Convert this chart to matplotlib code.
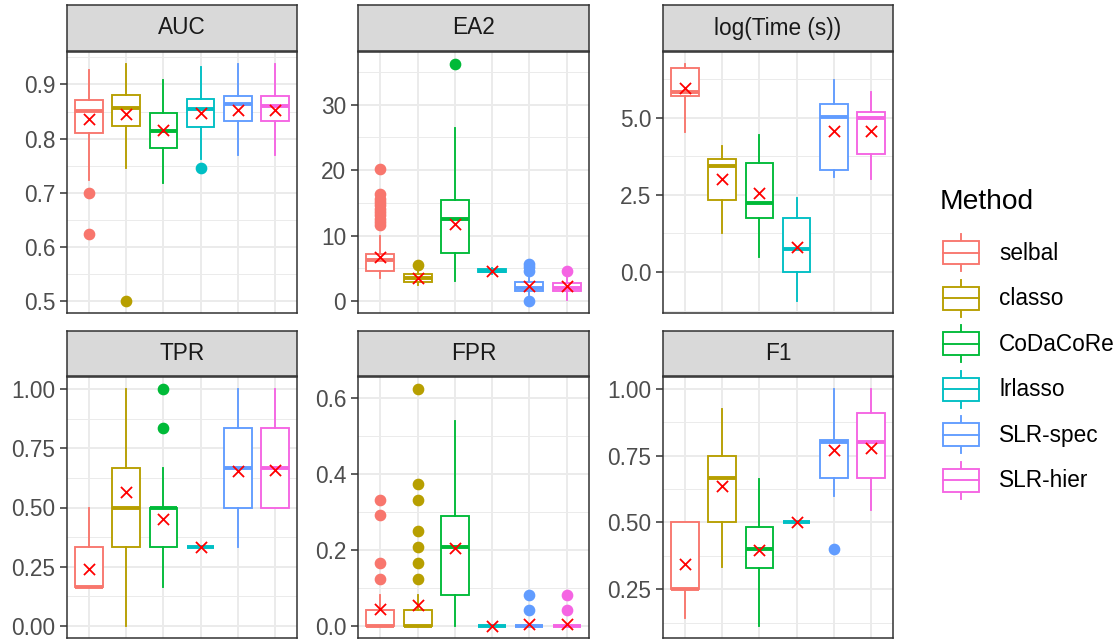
import matplotlib
matplotlib.use("Agg")
import matplotlib.pyplot as plt
from matplotlib.patches import Patch, Rectangle
from matplotlib.lines import Line2D
from matplotlib.legend_handler import HandlerBase
from matplotlib.ticker import FixedLocator

plt.rcParams['font.family'] = ['Liberation Sans', 'DejaVu Sans']

methods = ['selbal', 'classo', 'CoDaCoRe', 'lrlasso', 'SLR-spec', 'SLR-hier']
colors = ['#F8766D', '#B79F00', '#00BA38', '#00BFC4', '#619CFF', '#F564E3']

# five-number summaries per method: [whisker low, Q1, median, Q3, whisker high]
auc_stats = [[0.723, 0.810, 0.851, 0.872, 0.927],
             [0.746, 0.824, 0.857, 0.880, 0.938],
             [0.719, 0.783, 0.814, 0.847, 0.909],
             [0.762, 0.822, 0.854, 0.873, 0.933],
             [0.769, 0.832, 0.863, 0.879, 0.938],
             [0.769, 0.832, 0.861, 0.879, 0.938]]
auc_means = [0.837, 0.845, 0.816, 0.848, 0.853, 0.853]
auc_out = [[0.70, 0.624], [0.50], [], [0.745], [], []]

ea2_stats = [[3.56, 4.66, 6.2, 7.17, 10.0],
             [2.5, 2.9, 3.5, 4.1, 4.6],
             [3.06, 7.42, 12.5, 15.4, 26.4],
             [4.2, 4.4, 4.65, 4.85, 5.0],
             [1.0, 1.55, 2.05, 2.9, 3.6],
             [0.15, 1.55, 2.05, 2.8, 3.5]]
ea2_means = [6.67, 3.56, 11.8, 4.66, 2.3, 2.3]
ea2_out = [[11.6, 12.1, 12.6, 13.1, 13.6, 14.1, 14.6, 15.1, 15.6, 16.3, 20.2],
           [5.5], [36.2], [], [0.0, 4.56, 5.2, 5.66], [4.56]]

time_stats = [[4.53, 5.69, 5.84, 6.59, 6.74],
              [1.27, 2.33, 3.43, 3.67, 4.09],
              [0.50, 1.76, 2.24, 3.52, 4.45],
              [-0.94, 0.0, 0.75, 1.76, 2.40],
              [3.09, 3.30, 5.03, 5.43, 6.23],
              [3.01, 3.81, 4.98, 5.17, 5.83]]
time_means = [5.96, 3.0, 2.55, 0.80, 4.58, 4.58]
time_out = [[], [], [], [], [], []]

tpr_stats = [[0.167, 0.167, 0.167, 0.333, 0.5],
             [0.0, 0.333, 0.5, 0.667, 1.0],
             [0.167, 0.333, 0.5, 0.5, 0.667],
             [0.333, 0.333, 0.333, 0.333, 0.333],
             [0.333, 0.5, 0.667, 0.833, 1.0],
             [0.5, 0.5, 0.667, 0.833, 1.0]]
tpr_means = [0.24, 0.565, 0.45, 0.333, 0.652, 0.66]
tpr_out = [[], [], [0.833, 1.0], [], [], []]

fpr_stats = [[0.0, 0.0, 0.0, 0.042, 0.083],
             [0.0, 0.0, 0.0, 0.042, 0.083],
             [0.0, 0.083, 0.209, 0.291, 0.54],
             [0.0, 0.0, 0.0, 0.0, 0.0],
             [0.0, 0.0, 0.0, 0.0, 0.0],
             [0.0, 0.0, 0.0, 0.0, 0.0]]
fpr_means = [0.044, 0.055, 0.207, 0.0, 0.005, 0.005]
fpr_out = [[0.125, 0.167, 0.292, 0.333],
           [0.125, 0.167, 0.208, 0.25, 0.333, 0.375, 0.625],
           [], [], [0.042, 0.083], [0.042, 0.083]]

f1_stats = [[0.143, 0.25, 0.25, 0.5, 0.5],
            [0.335, 0.5, 0.667, 0.75, 0.923],
            [0.112, 0.328, 0.40, 0.483, 0.664],
            [0.5, 0.5, 0.5, 0.5, 0.5],
            [0.6, 0.665, 0.80, 0.809, 1.0],
            [0.545, 0.665, 0.80, 0.909, 1.0]]
f1_means = [0.343, 0.637, 0.396, 0.5, 0.77, 0.779]
f1_out = [[], [], [], [], [0.40], []]

panels = [
    ('AUC', auc_stats, auc_means, auc_out, [0.5, 0.6, 0.7, 0.8, 0.9], ['0.5', '0.6', '0.7', '0.8', '0.9']),
    ('EA2', ea2_stats, ea2_means, ea2_out, [0, 10, 20, 30], ['0', '10', '20', '30']),
    ('log(Time (s))', time_stats, time_means, time_out, [0.0, 2.5, 5.0], ['0.0', '2.5', '5.0']),
    ('TPR', tpr_stats, tpr_means, tpr_out, [0, 0.25, 0.5, 0.75, 1.0], ['0.00', '0.25', '0.50', '0.75', '1.00']),
    ('FPR', fpr_stats, fpr_means, fpr_out, [0.0, 0.2, 0.4, 0.6], ['0.0', '0.2', '0.4', '0.6']),
    ('F1', f1_stats, f1_means, f1_out, [0.25, 0.5, 0.75, 1.0], ['0.25', '0.50', '0.75', '1.00']),
]

W, H = 1120, 641
fig = plt.figure(figsize=(W / 100, H / 100), dpi=100)

cols = [(67, 297), (358, 589), (663, 893)]
rows = [(5, 52, 313), (331, 377, 638)]  # strip top, panel top, panel bottom
grid_col = '#EBEBEB'
frame_col = '#333333'
fs = 16.3
lw = 1.35

for k, (name, stats, means, outs, ticks, labels) in enumerate(panels):
    c0, c1 = cols[k % 3]
    s0, p0, p1 = rows[k // 3]
    ax = fig.add_axes([c0 / W, 1 - p1 / H, (c1 - c0) / W, (p1 - p0) / H])
    sax = fig.add_axes([c0 / W, 1 - (p0 - 1) / H, (c1 - c0) / W, (p0 - 1 - s0) / H])

    for i, st in enumerate(stats):
        col = colors[i]
        bx = [dict(whislo=st[0], q1=st[1], med=st[2], q3=st[3], whishi=st[4], fliers=outs[i])]
        ax.bxp(bx, positions=[i + 1], widths=0.75, patch_artist=True, showcaps=False,
               boxprops=dict(facecolor='white', edgecolor=col, linewidth=lw),
               whiskerprops=dict(color=col, linewidth=lw),
               medianprops=dict(color=col, linewidth=2.8, solid_capstyle='butt'),
               flierprops=dict(marker='o', markerfacecolor=col, markeredgecolor=col,
                               markersize=7.4, linestyle='none'),
               zorder=3)
    ax.scatter(range(1, 7), means, marker='x', color='red', s=64, linewidths=1.3, zorder=5)

    lo = min(min(s[0] for s in stats), min([v for o in outs for v in o] or [1e9]))
    hi = max(max(s[4] for s in stats), max([v for o in outs for v in o] or [-1e9]))
    pad = (hi - lo) * 0.05
    ax.set_ylim(lo - pad, hi + pad)
    ax.set_xlim(0.4, 6.6)

    step = ticks[1] - ticks[0]
    minors = [ticks[0] - step / 2] + [t + step / 2 for t in ticks]
    ax.yaxis.set_major_locator(FixedLocator(ticks))
    ax.set_yticklabels(labels)
    ax.yaxis.set_minor_locator(FixedLocator(minors))
    ax.set_xticks(range(1, 7))
    ax.set_xticklabels([])
    ax.tick_params(axis='x', length=0)
    ax.tick_params(axis='y', which='major', length=5, width=1.1, color=frame_col,
                   labelsize=fs, labelcolor='#4D4D4D', pad=3.5)
    ax.tick_params(axis='y', which='minor', length=0)
    ax.grid(True, which='major', color=grid_col, linewidth=1.4, zorder=0)
    ax.grid(True, which='minor', axis='y', color=grid_col, linewidth=0.7, zorder=0)
    ax.set_axisbelow(True)
    for sp in ax.spines.values():
        sp.set_color(frame_col)
        sp.set_linewidth(1.1)

    sax.set_facecolor('#D9D9D9')
    sax.set_xticks([])
    sax.set_yticks([])
    for sp in sax.spines.values():
        sp.set_color(frame_col)
        sp.set_linewidth(1.1)
    sax.text(0.5, 0.5, name, ha='center', va='center', fontsize=fs, color='#1A1A1A',
             transform=sax.transAxes)


class BoxHandler(HandlerBase):
    def create_artists(self, legend, orig_handle, xdescent, ydescent, width, height, fontsize, trans):
        col = orig_handle.get_edgecolor()
        x0, y0 = -xdescent, -ydescent
        b0, b1 = y0 + 0.19 * height, y0 + 0.81 * height
        xm = x0 + width / 2
        box = Rectangle((x0, b0), width, b1 - b0, facecolor='white', edgecolor=col,
                        linewidth=lw, transform=trans)
        med = Line2D([x0, x0 + width], [y0 + height / 2] * 2, color=col, linewidth=lw, transform=trans)
        w1 = Line2D([xm, xm], [y0, b0], color=col, linewidth=lw, transform=trans)
        w2 = Line2D([xm, xm], [b1, y0 + height], color=col, linewidth=lw, transform=trans)
        return [w1, w2, box, med]


handles = [Patch(facecolor='white', edgecolor=c) for c in colors]
fig.text(940 / W, 1 - 202 / H, 'Method', fontsize=20.3, color='black', ha='left', va='center')
leg = fig.legend(handles, methods, handler_map={Patch: BoxHandler()},
                 loc='center left', bbox_to_anchor=(943 / W, 1 - 366.5 / H),
                 frameon=False, fontsize=fs, handlelength=1.6, handleheight=2.14,
                 labelspacing=0.376, handletextpad=0.88, borderpad=0, borderaxespad=0)

fig.savefig('out.png', dpi=100)
